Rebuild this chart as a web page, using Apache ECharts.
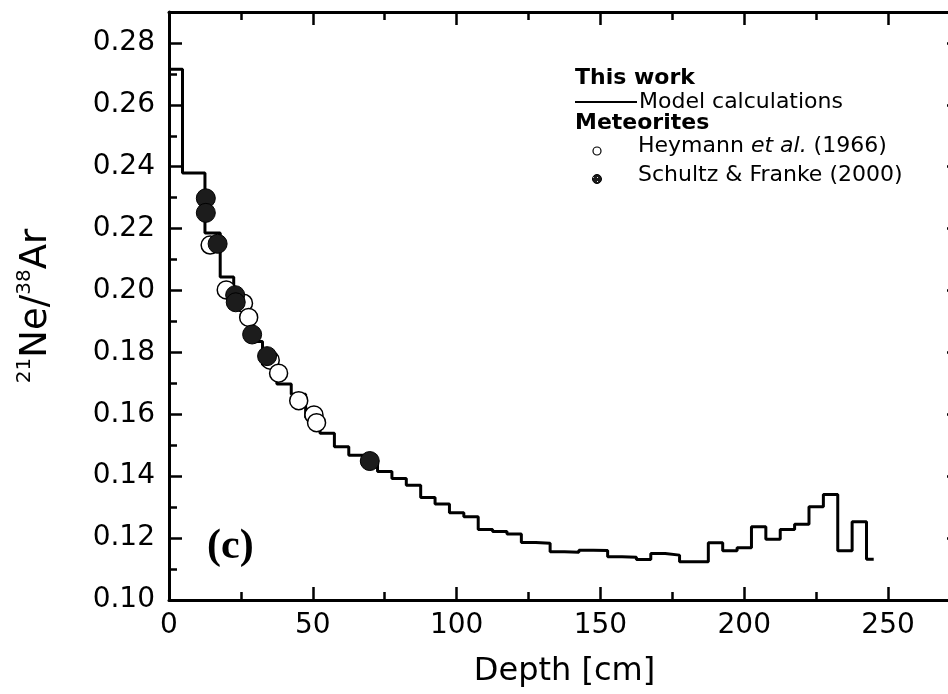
<!DOCTYPE html>
<html>
<head>
<meta charset="utf-8">
<script src="https://cdn.jsdelivr.net/npm/echarts@6/dist/echarts.min.js"></script>
<style>
  html, body { margin: 0; background: #fff; }
  #chart { width: 948px; height: 694px; }
</style>
</head>
<body>
<div id="chart"></div>
<script>
// model histogram: left edge of each depth bin [cm] and its 21Ne/38Ar ratio
const modelDepth = [0, 4.7, 12.5, 17.8, 22.5, 27.5, 32.5, 37.5, 42.5, 47.5, 52.5, 57.5, 62.5, 67.5, 72.5, 77.5,
  82.5, 87.5, 92.5, 97.5, 102.5, 107.5, 112.5, 117.5, 122.5, 127.5, 132.5, 137.5, 142.5, 147.5, 152.5,
  157.5, 162.5, 167.5, 172.5, 177.5, 182.5, 187.5, 192.5, 197.5, 202.5, 207.5, 212.5, 217.5, 222.5,
  227.5, 232.5, 237.5, 242.5, 245];
const modelRatio = [0.2715, 0.238, 0.2186, 0.2044, 0.197, 0.1835, 0.176, 0.1698, 0.1665, 0.159, 0.1539,
  0.1495, 0.1468, 0.1445, 0.1415, 0.1393, 0.1371, 0.1331, 0.131, 0.1282, 0.1269, 0.1228, 0.1221, 0.1213,
  0.1186, 0.1183, 0.1156, 0.1154, 0.1161, 0.116, 0.114, 0.1138, 0.1131, 0.115, 0.1145, 0.1124, 0.1124,
  0.1185, 0.1159, 0.1169, 0.1237, 0.1196, 0.1228, 0.1245, 0.1301, 0.1341, 0.1159, 0.1253, 0.1132, 0.1132];

// Heymann et al. (1966)
const heymannDepth = [14.3, 19.9, 25.9, 27.7, 35.2, 38.1, 45.1, 50.4, 51.3];
const heymannRatio = [0.2147, 0.2002, 0.1959, 0.1913, 0.1775, 0.1733, 0.1644, 0.1598, 0.1573];

// Schultz & Franke (2000)
const schultzDepth = [12.8, 12.8, 16.9, 23, 23.2, 28.9, 34.1, 69.8];
const schultzRatio = [0.2298, 0.2251, 0.2151, 0.1985, 0.1962, 0.1858, 0.1788, 0.1449];

const xTicks = { min: 0, max: 275, interval: 50 };
const yTicks = { min: 0.10, max: 0.29, interval: 0.02 };

const FONT = 'DejaVu Sans';
const zip = (xs, ys) => xs.map((x, i) => [x, ys[i]]);

// dark dotted fill of the Schultz & Franke symbols
function dotPattern() {
  const c = document.createElement('canvas');
  c.width = 4; c.height = 4;
  const g = c.getContext('2d');
  g.fillStyle = '#1c1c1c';
  g.fillRect(0, 0, 4, 4);
  g.fillStyle = '#f0f0f0';
  g.fillRect(1, 1, 1, 1);
  return c;
}
const dots = { image: dotPattern(), repeat: 'repeat' };

const tickLine = { color: '#000', width: 2.5 };
const axisBase = (extra) => Object.assign({
  type: 'value',
  axisLine: { show: true, onZero: false, lineStyle: { color: '#000', width: 3 } },
  axisTick: { show: true, inside: true, length: 13, lineStyle: tickLine },
  minorTick: { show: true, splitNumber: 2, length: 8, lineStyle: tickLine },
  splitLine: { show: false },
  minorSplitLine: { show: false }
}, extra);

const chart = echarts.init(document.getElementById('chart'));
chart.setOption({
  animation: false,
  backgroundColor: '#fff',
  grid: { left: 169, top: 12, right: -12, bottom: 94, containLabel: false, outerBoundsMode: 'none' },
  xAxis: [
    axisBase(Object.assign({
      position: 'bottom',
      axisLabel: { showMaxLabel: false, fontFamily: FONT, fontSize: 28, color: '#000', margin: 12 },
      name: 'Depth [cm]',
      nameLocation: 'middle',
      nameGap: 56,
      nameTextStyle: { fontFamily: FONT, fontSize: 32, color: '#000' }
    }, xTicks)),
    axisBase(Object.assign({ position: 'top', axisLabel: { show: false } }, xTicks))
  ],
  yAxis: [
    axisBase(Object.assign({
      position: 'left',
      axisLabel: {
        showMaxLabel: false, fontFamily: FONT, fontSize: 28, color: '#000', margin: 14,
        formatter: v => v.toFixed(2)
      },
      name: '{s|21}{b|Ne/}{s|38}{b|Ar}',
      nameLocation: 'middle',
      nameGap: 112,
      nameTextStyle: {
        fontFamily: FONT, color: '#000',
        rich: {
          b: { fontFamily: FONT, fontSize: 37, color: '#000', lineHeight: 42 },
          s: { fontFamily: FONT, fontSize: 20, color: '#000', verticalAlign: 'top', lineHeight: 42, padding: [0, 0, 14, 0] }
        }
      }
    }, yTicks)),
    axisBase(Object.assign({ position: 'right', axisLabel: { show: false } }, yTicks))
  ],
  series: [
    {
      name: 'Model calculations',
      type: 'line',
      step: 'end',
      data: zip(modelDepth, modelRatio),
      showSymbol: false,
      symbol: 'none',
      lineStyle: { color: '#000', width: 3 },
      z: 2
    },
    {
      name: 'Heymann et al. (1966)',
      type: 'scatter',
      data: zip(heymannDepth, heymannRatio),
      symbol: 'circle',
      symbolSize: 18,
      itemStyle: { color: '#fff', borderColor: '#000', borderWidth: 1.5, opacity: 1 },
      z: 3
    },
    {
      name: 'Schultz & Franke (2000)',
      type: 'scatter',
      data: zip(schultzDepth, schultzRatio),
      symbol: 'circle',
      symbolSize: 19,
      itemStyle: { color: dots, borderColor: '#000', borderWidth: 1, opacity: 1 },
      z: 4
    }
  ],
  graphic: [
    { type: 'text', left: 575, top: 67, style: { text: 'This work', font: 'bold 22px "DejaVu Sans"', fill: '#000' } },
    { type: 'line', shape: { x1: 575, y1: 102, x2: 637, y2: 102 }, style: { stroke: '#000', lineWidth: 2 } },
    { type: 'text', left: 639, top: 91, style: { text: 'Model calculations', font: '22px "DejaVu Sans"', fill: '#000' } },
    { type: 'text', left: 575, top: 112, style: { text: 'Meteorites', font: 'bold 22px "DejaVu Sans"', fill: '#000' } },
    { type: 'circle', shape: { cx: 597, cy: 151, r: 4 }, style: { fill: '#fff', stroke: '#000', lineWidth: 1.2 } },
    {
      type: 'text', left: 638, top: 135,
      style: {
        text: '{n|Heymann }{i|et al.}{n| (1966)}', fill: '#000',
        rich: {
          n: { fontFamily: FONT, fontSize: 22, fill: '#000' },
          i: { fontFamily: FONT, fontSize: 22, fontStyle: 'italic', fill: '#000' }
        }
      }
    },
    { type: 'circle', shape: { cx: 597, cy: 179, r: 4.5 }, style: { fill: dots, stroke: '#000', lineWidth: 1 } },
    { type: 'text', left: 638, top: 164, style: { text: 'Schultz & Franke (2000)', font: '22px "DejaVu Sans"', fill: '#000' } },
    { type: 'text', left: 207, top: 526, style: { text: '(c)', font: 'bold 42px "Liberation Serif"', fill: '#000' } }
  ]
});
</script>
</body>
</html>
